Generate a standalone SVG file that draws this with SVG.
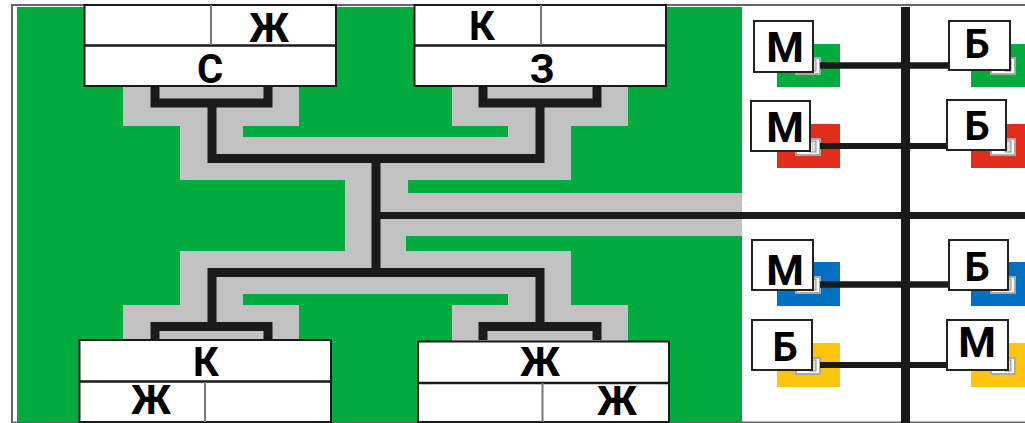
<svg xmlns="http://www.w3.org/2000/svg" width="1025" height="423" viewBox="0 0 1025 423">
<style>
.box{fill:#fff;stroke:#1a1a1a;stroke-width:2}
.div{stroke:#777;stroke-width:2}
.mid{stroke:#1a1a1a;stroke-width:2.5}
.lbl{fill:#fff;stroke:#222;stroke-width:2}
.mini{fill:#fff;stroke:#aaa;stroke-width:2}
.mini2{fill:#ddd;stroke:#888;stroke-width:1}
.wire{fill:none;stroke:#1a1a1a;stroke-linejoin:miter}
text{font-family:Roboto,"Open Sans","Liberation Sans",sans-serif;font-weight:700;font-size:40px;fill:#000;text-anchor:middle}
.big{font-size:43px}
</style>
<rect width="1025" height="423" fill="#fff"/>
<rect x="17" y="7" width="725" height="416" fill="#00ac3e"/>
<path d="M12 423V5H1025M12 422.500H1025" fill="none" stroke="#666" stroke-width="2"/>
<path id="bus-ground" fill="#c2c2c2" d="M123 86H299V126H243V137H508V126H452V86H628V126H571V180H408V193H742V236H406V251H571V305H628V341H452V305H508V294H243V305H299V340H123V305H180V251H345V180H180V126H123Z"/>
<g id="connectors" class="wire">
<path stroke-width="9" d="M155 86V103H268V86M212 103V158.500H540V103M483 86V103H597V86"/>
<path stroke-width="9" d="M155 340V326.500H268V340M212 326.500V272.500H540V326.500M483 340V326.500H597V340"/>
<path stroke-width="9" d="M376 158V272"/>
<path stroke-width="7" d="M376 215.500H1025"/>
<path stroke-width="9" d="M905.500 7V423"/>
</g>
<g id="pads">
<rect x="777" y="44" width="63" height="43" fill="#00ac3e"/>
<rect x="971" y="44" width="54" height="43" fill="#00ac3e"/>
<rect x="777" y="124" width="63" height="44" fill="#e32c1c"/>
<rect x="971" y="124" width="54" height="44" fill="#e32c1c"/>
<rect x="777" y="262" width="63" height="44" fill="#0070c0"/>
<rect x="971" y="262" width="54" height="44" fill="#0070c0"/>
<rect x="777" y="343" width="63" height="44" fill="#fcc40a"/>
<rect x="971" y="343" width="54" height="44" fill="#fcc40a"/>
<rect class="mini" x="796" y="58" width="24" height="16"/><rect class="mini2" x="810" y="60" width="6" height="11"/>
<rect class="mini" x="991" y="58" width="24" height="16"/><rect class="mini2" x="1005" y="60" width="6" height="11"/>
<rect class="mini" x="796" y="139" width="24" height="16"/><rect class="mini2" x="810" y="141" width="6" height="11"/>
<rect class="mini" x="991" y="139" width="24" height="16"/><rect class="mini2" x="1005" y="141" width="6" height="11"/>
<rect class="mini" x="796" y="277" width="24" height="16"/><rect class="mini2" x="810" y="279" width="6" height="11"/>
<rect class="mini" x="991" y="277" width="24" height="16"/><rect class="mini2" x="1005" y="279" width="6" height="11"/>
<rect class="mini" x="796" y="358" width="24" height="16"/><rect class="mini2" x="810" y="360" width="6" height="11"/>
<rect class="mini" x="991" y="358" width="24" height="16"/><rect class="mini2" x="1005" y="360" width="6" height="11"/>
</g>
<g id="pad-wires" class="wire" stroke-width="6.500">
<path d="M820 65.500H949"/>
<path stroke-width="6" d="M820 146H947"/>
<path d="M820 284.500H949"/>
<path stroke-width="6" d="M820 365H947"/>
</g>
<g id="node-top-left">
<rect class="box" x="84.500" y="5" width="251.500" height="81"/>
<path class="mid" d="M84.500 45.500H336"/><path class="div" d="M211 5V45"/>
<text x="269" y="42">Ж</text><text x="210" y="83">С</text>
</g>
<g id="node-top-right">
<rect class="box" x="414.500" y="5" width="251.500" height="81"/>
<path class="mid" d="M414.500 45.500H666"/><path class="div" d="M541 5V45"/>
<text x="482" y="40">К</text><text x="542" y="83">З</text>
</g>
<g id="node-bottom-left">
<rect class="box" x="79.500" y="340" width="251.500" height="82"/>
<path class="mid" d="M79.500 381.500H331"/><path class="div" d="M205 382V422"/>
<text x="206" y="376">К</text><text x="151" y="414">Ж</text>
</g>
<g id="node-bottom-right">
<rect class="box" x="418" y="341.500" width="251" height="80.500"/>
<path class="mid" d="M418 383H669"/><path class="div" d="M542.500 383V422"/>
<text x="540" y="376">Ж</text><text x="617" y="415">Ж</text>
</g>
<g id="label-m1"><rect class="lbl" x="754" y="21" width="59" height="51"/><text class="big" x="785" y="62">М</text></g>
<g id="label-b1"><rect class="lbl" x="949" y="21" width="61" height="49"/><text x="977" y="58">Б</text></g>
<g id="label-m2"><rect class="lbl" x="751" y="101" width="59" height="50"/><text class="big" x="785" y="142">М</text></g>
<g id="label-b2"><rect class="lbl" x="947" y="100" width="59" height="50"/><text x="977" y="140">Б</text></g>
<g id="label-m3"><rect class="lbl" x="752" y="240" width="61" height="50"/><text class="big" x="785" y="285">М</text></g>
<g id="label-b3"><rect class="lbl" x="949" y="240" width="59" height="50"/><text x="977" y="281">Б</text></g>
<g id="label-b4"><rect class="lbl" x="752" y="320" width="60" height="50"/><text x="785" y="361">Б</text></g>
<g id="label-m4"><rect class="lbl" x="947" y="320" width="61" height="50"/><text class="big" x="977" y="357">М</text></g>
</svg>
